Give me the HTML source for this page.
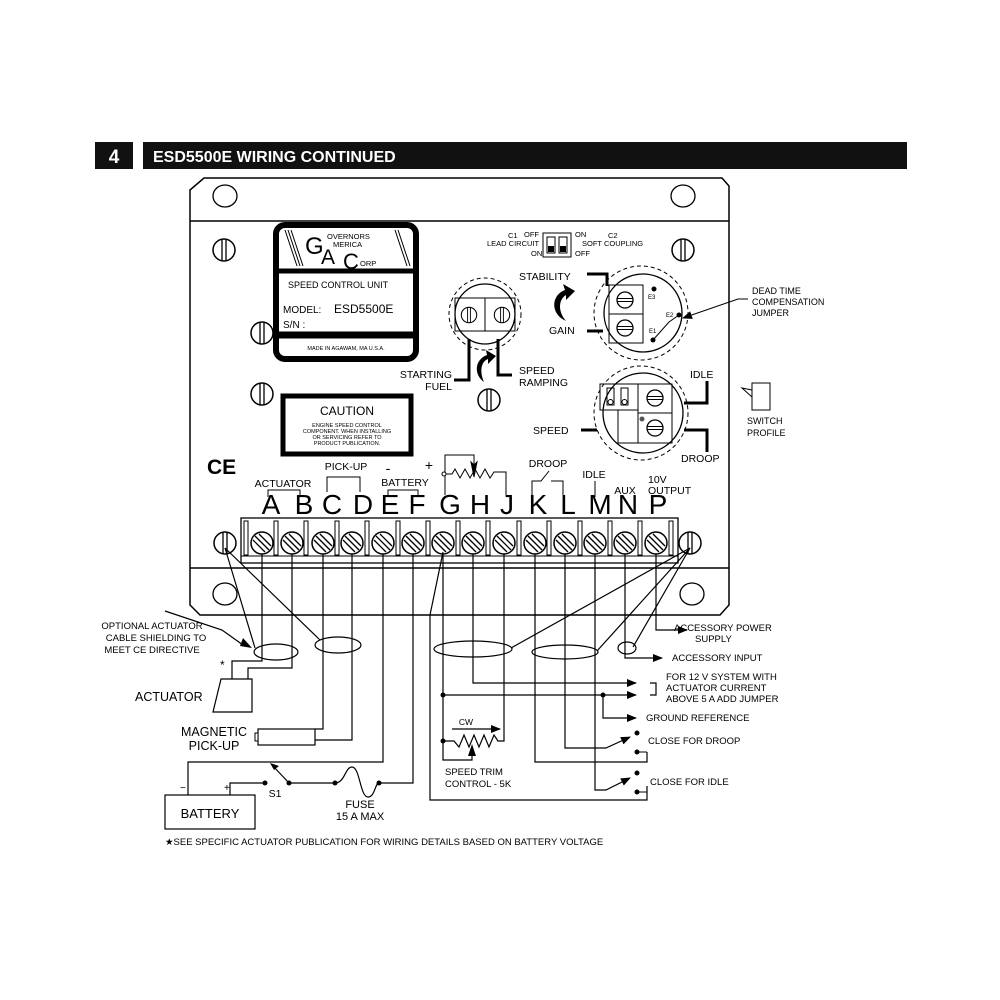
<!DOCTYPE html>
<html><head><meta charset="utf-8"><style>
html,body{margin:0;padding:0;background:#fff}
svg{display:block}
text{font-family:"Liberation Sans",sans-serif;fill:#000}
</style></head><body>
<svg width="1000" height="1000" viewBox="0 0 1000 1000" xmlns="http://www.w3.org/2000/svg">
<defs>
<marker id="ar" markerWidth="10" markerHeight="8" refX="9" refY="4" orient="auto" markerUnits="userSpaceOnUse"><path d="M0,0 L10,4 L0,8 z" fill="#000"/></marker>
<g id="scr"><circle r="11" fill="#fff" stroke="#000" stroke-width="1.5"/><line x1="-7" y1="-7" x2="7" y2="7" stroke="#000" stroke-width="1.3"/><line x1="-9" y1="-3" x2="3" y2="9" stroke="#000" stroke-width="1.3"/><line x1="-3" y1="-9" x2="9" y2="3" stroke="#000" stroke-width="1.3"/></g>
<g id="vs"><circle r="11" fill="#fff" stroke="#000" stroke-width="1.5"/><line x1="-2" y1="-11" x2="-2" y2="11" stroke="#000" stroke-width="1.3"/><line x1="2" y1="-11" x2="2" y2="11" stroke="#000" stroke-width="1.3"/></g>
<g id="ps"><circle r="8" fill="#fff" stroke="#000" stroke-width="1.3"/><line x1="-8" y1="-1.5" x2="8" y2="-1.5" stroke="#000"/><line x1="-8" y1="1.5" x2="8" y2="1.5" stroke="#000"/></g>
</defs>

<rect x="95" y="142" width="38" height="27" fill="#111"/>
<text x="114" y="163" font-size="19" font-weight="bold" style="fill:#fff" text-anchor="middle">4</text>
<rect x="143" y="142" width="764" height="27" fill="#111"/>
<text x="153" y="162" font-size="16" font-weight="bold" style="fill:#fff">ESD5500E WIRING CONTINUED</text>

<path d="M190,190 L204,178 L722,178 L729,186 L729,605 L720,615 L200,615 L190,605 Z" fill="#fff" stroke="#000" stroke-width="1.5"/>
<line x1="190" y1="221" x2="729" y2="221" stroke="#000" stroke-width="1.5"/>
<line x1="190" y1="568" x2="729" y2="568" stroke="#000" stroke-width="1.5"/>
<ellipse cx="225" cy="196" rx="12" ry="11" fill="none" stroke="#000" stroke-width="1.3"/>
<ellipse cx="683" cy="196" rx="12" ry="11" fill="none" stroke="#000" stroke-width="1.3"/>
<ellipse cx="225" cy="594" rx="12" ry="11" fill="none" stroke="#000" stroke-width="1.3"/>
<ellipse cx="692" cy="594" rx="12" ry="11" fill="none" stroke="#000" stroke-width="1.3"/>
<use href="#vs" x="224" y="250"/><use href="#vs" x="683" y="250"/>
<use href="#vs" x="262" y="333"/><use href="#vs" x="262" y="394"/><use href="#vs" x="489" y="400"/>

<rect x="276" y="225" width="140" height="134" rx="9" fill="#fff" stroke="#000" stroke-width="6"/>
<line x1="278" y1="271" x2="414" y2="271" stroke="#000" stroke-width="5"/>
<line x1="278" y1="335" x2="414" y2="335" stroke="#000" stroke-width="7"/>
<path d="M285,230 L297,266 M288,230 L300,266 M291,230 L303,266 M395,230 L407,266 M398,230 L410,266" stroke="#000" stroke-width="1"/>
<text x="305" y="254" font-size="24">G</text>
<text x="327" y="239" font-size="7.5">OVERNORS</text>
<text x="333" y="247" font-size="7.5">MERICA</text>
<text x="321" y="264" font-size="21">A</text>
<text x="343" y="269" font-size="22">C</text>
<text x="360" y="266" font-size="7.5">ORP</text>
<text x="288" y="288" font-size="9">SPEED CONTROL UNIT</text>
<text x="283" y="313" font-size="10">MODEL:</text>
<text x="334" y="313" font-size="12">ESD5500E</text>
<text x="283" y="328" font-size="10">S/N :</text>
<text x="346" y="350" font-size="5.5" text-anchor="middle">MADE IN AGAWAM, MA  U.S.A.</text>

<rect x="283" y="396" width="128" height="58" fill="#fff" stroke="#000" stroke-width="5"/>
<text x="347" y="415" font-size="12" text-anchor="middle">CAUTION</text>
<text x="347" y="427" font-size="5.5" text-anchor="middle">ENGINE SPEED CONTROL</text>
<text x="347" y="433" font-size="5.5" text-anchor="middle">COMPONENT. WHEN INSTALLING</text>
<text x="347" y="439" font-size="5.5" text-anchor="middle">OR SERVICING REFER TO</text>
<text x="347" y="445" font-size="5.5" text-anchor="middle">PRODUCT PUBLICATION.</text>

<text x="207" y="474" font-size="21" font-weight="bold">CE</text>

<rect x="543" y="233" width="28" height="24" fill="#fff" stroke="#000"/>
<rect x="547" y="237" width="8" height="16" fill="none" stroke="#000"/><rect x="559" y="237" width="8" height="16" fill="none" stroke="#000"/>
<rect x="548" y="246" width="6" height="6" fill="#000"/><rect x="560" y="246" width="6" height="6" fill="#000"/>
<text x="508" y="238" font-size="7.5">C1</text><text x="524" y="237" font-size="7.5">OFF</text>
<text x="487" y="246" font-size="7.5">LEAD CIRCUIT</text><text x="531" y="256" font-size="7.5">ON</text>
<text x="575" y="237" font-size="7.5">ON</text><text x="608" y="238" font-size="7.5">C2</text>
<text x="582" y="246" font-size="7.5">SOFT COUPLING</text><text x="575" y="256" font-size="7.5">OFF</text>

<circle cx="485" cy="314" r="36" fill="none" stroke="#000" stroke-dasharray="4,3"/>
<circle cx="485" cy="314" r="30" fill="#fff" stroke="#000" stroke-width="1.3"/>
<rect x="455" y="298" width="60" height="33" fill="none" stroke="#000"/>
<line x1="485" y1="298" x2="485" y2="331" stroke="#000"/>
<use href="#vs" transform="translate(469,315) scale(0.7)"/>
<use href="#vs" transform="translate(502,315) scale(0.7)"/>
<path d="M469,339 L469,380 L454,380 M498,339 L498,375 L512,375" fill="none" stroke="#000" stroke-width="3"/>
<path d="M484,382 C474,375 474,360 487,355 L486,350 L496,356 L488,364 L488,359 C480,362 480,373 484,382Z" fill="#000"/>
<text x="452" y="378" font-size="10.5" text-anchor="end">STARTING</text>
<text x="452" y="390" font-size="10.5" text-anchor="end">FUEL</text>
<text x="519" y="374" font-size="10.5">SPEED</text>
<text x="519" y="386" font-size="10.5">RAMPING</text>

<circle cx="641" cy="313" r="47" fill="none" stroke="#000" stroke-dasharray="4,3"/>
<circle cx="643" cy="313" r="39" fill="#fff" stroke="#000" stroke-width="1.3"/>
<rect x="609" y="285" width="34" height="58" fill="none" stroke="#000"/>
<line x1="609" y1="314" x2="643" y2="314" stroke="#000"/>
<use href="#ps" x="625" y="300"/><use href="#ps" x="625" y="328"/>
<circle cx="654" cy="289" r="2.5"/><text x="648" y="299" font-size="6">E3</text>
<circle cx="679" cy="315" r="2.5"/><text x="666" y="317" font-size="6">E2</text>
<circle cx="653" cy="340" r="2.5"/><text x="649" y="333" font-size="6">E1</text>
<path d="M653,340 L669,322 L679,315" fill="none" stroke="#000"/>
<path d="M587,274 L607,274 L607,286 M587,331 L603,331" fill="none" stroke="#000" stroke-width="3"/>
<text x="519" y="280" font-size="10.5">STABILITY</text>
<text x="549" y="334" font-size="10.5">GAIN</text>
<path d="M566,321 C550,314 551,295 565,290 L563,284 L575,291 L566,300 L566,295 C558,300 558,312 566,321Z" fill="#000"/>
<path d="M748,299 L738,299 L683,318" fill="none" stroke="#000" marker-end="url(#ar)"/>
<text x="752" y="294" font-size="9">DEAD TIME</text>
<text x="752" y="305" font-size="9">COMPENSATION</text>
<text x="752" y="316" font-size="9">JUMPER</text>

<circle cx="641" cy="413" r="47" fill="none" stroke="#000" stroke-dasharray="4,3"/>
<circle cx="643" cy="413" r="40" fill="#fff" stroke="#000" stroke-width="1.3"/>
<rect x="600" y="384" width="38" height="26" fill="none" stroke="#000"/>
<rect x="618" y="410" width="20" height="33" fill="none" stroke="#000"/>
<rect x="638" y="384" width="34" height="59" fill="none" stroke="#000"/>
<line x1="638" y1="413" x2="672" y2="413" stroke="#000"/>
<rect x="607" y="388" width="7" height="17" fill="none" stroke="#000"/><rect x="621" y="388" width="7" height="17" fill="none" stroke="#000"/>
<circle cx="610.5" cy="402" r="2.5" fill="none" stroke="#000"/><circle cx="624.5" cy="402" r="2.5" fill="none" stroke="#000"/>
<circle cx="642" cy="419" r="2.5" fill="#555"/>
<use href="#ps" x="655" y="398"/><use href="#ps" x="655" y="428"/>
<path d="M684,403 L707,403 L707,381 M684,430 L707,430 L707,452 M581,430 L597,430" fill="none" stroke="#000" stroke-width="3"/>
<text x="690" y="378" font-size="10.5">IDLE</text>
<text x="533" y="434" font-size="10.5">SPEED</text>
<text x="681" y="462" font-size="10.5">DROOP</text>
<rect x="752" y="383" width="18" height="27" fill="#fff" stroke="#000"/>
<path d="M752,390 L742,388 L752,397" fill="none" stroke="#000"/>
<text x="747" y="424" font-size="9">SWITCH</text>
<text x="747" y="436" font-size="9">PROFILE</text>

<g font-size="28" text-anchor="middle">
<text x="271" y="514">A</text><text x="304" y="514">B</text><text x="332" y="514">C</text><text x="363" y="514">D</text>
<text x="390" y="514">E</text><text x="417" y="514">F</text><text x="450" y="514">G</text><text x="480" y="514">H</text>
<text x="507" y="514">J</text><text x="538" y="514">K</text><text x="568" y="514">L</text><text x="600" y="514">M</text>
<text x="628" y="514">N</text><text x="658" y="514">P</text></g>
<text x="283" y="487" font-size="10.5" text-anchor="middle">ACTUATOR</text>
<path d="M268,497 L268,490 L300,490 L300,497" fill="none" stroke="#000"/>
<text x="346" y="470" font-size="10.5" text-anchor="middle">PICK-UP</text>
<path d="M327,492 L327,477 L360,477 L360,492" fill="none" stroke="#000"/>
<text x="388" y="473" font-size="14" text-anchor="middle">-</text>
<text x="429" y="470" font-size="14" text-anchor="middle">+</text>
<text x="405" y="486" font-size="10.5" text-anchor="middle">BATTERY</text>
<path d="M388,497 L388,490 L418,490 L418,497" fill="none" stroke="#000"/>
<path d="M445,495 L445,455 L474,455 L474,470" fill="none" stroke="#000"/>
<path d="M474,465 L471,462 L474,477 L477,462Z" fill="#000" stroke="#000"/>
<circle cx="444" cy="474" r="2" fill="#fff" stroke="#000"/>
<path d="M446,474 L452,474 L455,469 L460,478 L465,469 L470,478 L475,469 L480,478 L485,469 L490,478 L494,472 L506,472 L506,495" fill="none" stroke="#000"/>
<text x="548" y="467" font-size="10.5" text-anchor="middle">DROOP</text>
<path d="M532,495 L532,481 L541,481 L549,471 M551,481 L563,481 L563,495" fill="none" stroke="#000"/>
<text x="594" y="478" font-size="10.5" text-anchor="middle">IDLE</text>
<line x1="595" y1="481" x2="595" y2="497" stroke="#000"/>
<text x="625" y="494" font-size="10.5" text-anchor="middle">AUX</text>
<text x="648" y="483" font-size="10.5">10V</text>
<text x="648" y="494" font-size="10.5">OUTPUT</text>

<rect x="241" y="518" width="437" height="45" fill="#fff" stroke="#000" stroke-width="1.3"/>
<line x1="241" y1="556" x2="678" y2="556" stroke="#000"/>
<g fill="#fff" stroke="#000">
<rect x="244" y="521" width="4" height="34"/><rect x="274" y="521" width="4" height="34"/><rect x="304" y="521" width="4" height="34"/>
<rect x="335" y="521" width="4" height="34"/><rect x="365" y="521" width="4" height="34"/><rect x="396" y="521" width="4" height="34"/>
<rect x="426" y="521" width="4" height="34"/><rect x="456" y="521" width="4" height="34"/><rect x="486" y="521" width="4" height="34"/>
<rect x="517" y="521" width="4" height="34"/><rect x="547" y="521" width="4" height="34"/><rect x="578" y="521" width="4" height="34"/>
<rect x="608" y="521" width="4" height="34"/><rect x="638" y="521" width="4" height="34"/><rect x="669" y="521" width="4" height="34"/></g>
<use href="#scr" x="262" y="543"/><use href="#scr" x="292" y="543"/><use href="#scr" x="323" y="543"/><use href="#scr" x="352" y="543"/>
<use href="#scr" x="383" y="543"/><use href="#scr" x="413" y="543"/><use href="#scr" x="443" y="543"/><use href="#scr" x="473" y="543"/>
<use href="#scr" x="504" y="543"/><use href="#scr" x="535" y="543"/><use href="#scr" x="565" y="543"/><use href="#scr" x="595" y="543"/>
<use href="#scr" x="625" y="543"/><use href="#scr" x="656" y="543"/>
<use href="#vs" x="225" y="543"/><use href="#vs" x="690" y="543"/>

<g fill="none" stroke="#000" stroke-width="1.2">
<path d="M262,554 L262,661 L232,661 L232,679"/>
<path d="M292,554 L292,668 L248,668 L248,679"/>
<path d="M323,554 L323,729 L315,729"/>
<path d="M352,554 L352,740 L315,740"/>
<path d="M383,554 L383,762 L188,762 L188,795"/>
<path d="M413,554 L413,783 L379,783"/>
<path d="M443,554 L443,760 L472,760 L472,754"/>
<path d="M443,552 L430,615 L430,800 L647,800 L647,786"/>
<path d="M473,554 L473,683 L636,683" marker-end="url(#ar)"/>
<path d="M443,695 L636,695" marker-end="url(#ar)"/>
<path d="M603,695 L603,718 L636,718" marker-end="url(#ar)"/>
<path d="M650,683 L656,683 L656,695 L650,695"/>
<path d="M504,554 L504,741 L498,741 L494,735 L489,747 L484,735 L479,747 L474,735 L469,747 L464,735 L459,747 L454,741 L443,741"/>
<path d="M535,554 L535,762 L647,762 L647,752"/>
<path d="M565,554 L565,748 L606,748 L630,737" marker-end="url(#ar)"/>
<path d="M595,554 L595,790 L606,790 L630,778" marker-end="url(#ar)"/>
<path d="M625,554 L625,658 L662,658" marker-end="url(#ar)"/>
<path d="M656,554 L656,630 L687,630" marker-end="url(#ar)"/>
<path d="M452,729 L500,729" marker-end="url(#ar)"/>
<path d="M225,548 L255,648"/>
<path d="M225,548 L320,640"/>
<path d="M690,548 L511,648"/>
<path d="M690,548 L597,651"/>
<path d="M690,548 L633,647"/>
<path d="M243,645 L222,630 L165,611"/>
</g>
<path d="M472,744 L468,756 L476,756Z" fill="#000"/>
<path d="M252,648 L243,638 L240,646Z" fill="#000"/>
<g fill="none" stroke="#000" stroke-width="1.2">
<ellipse cx="276" cy="652" rx="22" ry="8"/>
<ellipse cx="338" cy="645" rx="23" ry="8"/>
<ellipse cx="473" cy="649" rx="39" ry="8"/>
<ellipse cx="565" cy="652" rx="33" ry="7"/>
<ellipse cx="627" cy="648" rx="9" ry="6"/>
</g>
<g fill="#000">
<circle cx="443" cy="695" r="2.5"/><circle cx="603" cy="695" r="2.5"/><circle cx="443" cy="741" r="2.5"/>
<circle cx="637" cy="733" r="2.5"/><circle cx="637" cy="752" r="2.5"/>
<circle cx="637" cy="773" r="2.5"/><circle cx="637" cy="792" r="2.5"/>
</g>
<path d="M637,752 L647,752 M637,792 L647,792 L647,786" fill="none" stroke="#000"/>
<text x="674" y="631" font-size="9.5">ACCESSORY POWER</text>
<text x="695" y="642" font-size="9.5">SUPPLY</text>
<text x="672" y="661" font-size="9.5">ACCESSORY INPUT</text>
<text x="666" y="680" font-size="9.5">FOR 12 V  SYSTEM WITH</text>
<text x="666" y="691" font-size="9.5">ACTUATOR  CURRENT</text>
<text x="666" y="702" font-size="9.5">ABOVE 5 A  ADD JUMPER</text>
<text x="646" y="721" font-size="9.5">GROUND REFERENCE</text>
<text x="648" y="744" font-size="9.5">CLOSE FOR DROOP</text>
<text x="650" y="785" font-size="9.5">CLOSE FOR IDLE</text>
<text x="466" y="725" font-size="8.5" text-anchor="middle">CW</text>
<text x="445" y="775" font-size="9.5">SPEED TRIM</text>
<text x="445" y="787" font-size="9.5">CONTROL - 5K</text>

<text x="152" y="629" font-size="9.5" text-anchor="middle">OPTIONAL ACTUATOR</text>
<text x="156" y="641" font-size="9.5" text-anchor="middle">CABLE SHIELDING TO</text>
<text x="152" y="653" font-size="9.5" text-anchor="middle">MEET CE DIRECTIVE</text>
<text x="220" y="669" font-size="12">*</text>
<path d="M221,679 L252,679 L252,712 L213,712 Z" fill="#fff" stroke="#000" stroke-width="1.2"/>
<text x="135" y="701" font-size="12.5">ACTUATOR</text>
<rect x="258" y="729" width="57" height="16" fill="#fff" stroke="#000" stroke-width="1.2"/>
<rect x="255" y="733" width="3" height="8" fill="#fff" stroke="#000"/>
<text x="214" y="736" font-size="12.5" text-anchor="middle">MAGNETIC</text>
<text x="214" y="750" font-size="12.5" text-anchor="middle">PICK-UP</text>
<rect x="165" y="795" width="90" height="34" fill="#fff" stroke="#000" stroke-width="1.2"/>
<text x="210" y="818" font-size="13" text-anchor="middle">BATTERY</text>
<text x="180" y="791" font-size="10">−</text><text x="224" y="791" font-size="10">+</text>
<path d="M230,795 L230,783 L265,783 M289,783 L335,783 C345,783 345,767 352,767 C360,767 360,797 368,797 C375,797 375,783 379,783 M289,783 L273,766" fill="none" stroke="#000" stroke-width="1.2"/>
<path d="M270,763 L279,766 L274,770Z" fill="#000"/>
<circle cx="265" cy="783" r="2.5"/><circle cx="289" cy="783" r="2.5"/><circle cx="335" cy="783" r="2.5"/><circle cx="379" cy="783" r="2.5"/>
<text x="275" y="797" font-size="10.5" text-anchor="middle">S1</text>
<text x="360" y="808" font-size="11" text-anchor="middle">FUSE</text>
<text x="360" y="820" font-size="11" text-anchor="middle">15 A MAX</text>
<text x="165" y="845" font-size="9.5">★SEE SPECIFIC ACTUATOR PUBLICATION FOR WIRING DETAILS BASED ON BATTERY VOLTAGE</text>
</svg>
</body></html>
